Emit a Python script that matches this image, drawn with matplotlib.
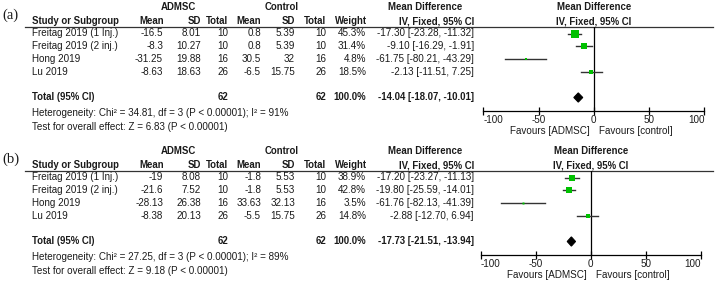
import matplotlib.pyplot as plt
import matplotlib.transforms as mtransforms

# 1. Dados
studies = ['Freitag 2019 (1 Inj.)', 'Freitag 2019 (2 inj.)', 'Hong 2019', 'Lu 2019']

# painel (a)
a_admsc_mean = [-16.5, -8.3, -31.25, -8.63]
a_admsc_sd = [8.01, 10.27, 19.88, 18.63]
a_admsc_n = [10, 10, 16, 26]
a_ctrl_mean = [0.8, 0.8, 30.5, -6.5]
a_ctrl_sd = [5.39, 5.39, 32, 15.75]
a_ctrl_n = [10, 10, 16, 26]
a_weight = [45.3, 31.4, 4.8, 18.5]
a_md = [-17.30, -9.10, -61.75, -2.13]
a_lo = [-23.28, -16.29, -80.21, -11.51]
a_hi = [-11.32, -1.91, -43.29, 7.25]
a_total = [-14.04, -18.07, -10.01]
a_het = (34.81, 3, 91)
a_z = 6.83

# painel (b)
b_admsc_mean = [-19, -21.6, -28.13, -8.38]
b_admsc_sd = [8.08, 7.52, 26.38, 20.13]
b_admsc_n = [10, 10, 16, 26]
b_ctrl_mean = [-1.8, -1.8, 33.63, -5.5]
b_ctrl_sd = [5.53, 5.53, 32.13, 15.75]
b_ctrl_n = [10, 10, 16, 26]
b_weight = [38.9, 42.8, 3.5, 14.8]
b_md = [-17.20, -19.80, -61.76, -2.88]
b_lo = [-23.27, -25.59, -82.13, -12.70]
b_hi = [-11.13, -14.01, -41.39, 6.94]
b_total = [-17.73, -21.51, -13.94]
b_het = (27.25, 3, 89)
b_z = 9.18

W, H = 716, 283
FONT = 'Liberation Sans'
TXT = '#1a1a1a'
GREEN = '#00c000'
FS, FSB = 7.1, 6.9

fig = plt.figure(figsize=(W / 100, H / 100), dpi=100)
bg = fig.add_axes([0, 0, 1, 1])
bg.set_xlim(0, W)
bg.set_ylim(H, 0)
bg.axis('off')


def txt(x, y, s, ha='left', bold=False, transform=None, **kw):
    bg.text(x, y, s, ha=ha, va='center', fontsize=FSB if bold else FS, family=FONT, color=TXT,
            fontweight='bold' if bold else 'normal',
            transform=transform if transform is not None else bg.transData, **kw)


def panel(label, dy, fx0, fx1, admsc_mean, admsc_sd, admsc_n, ctrl_mean, ctrl_sd, ctrl_n,
          weight, md, lo, hi, total, het, z):
    line_y = 27 + dy
    axis_y = 111 + dy
    row0, step = 33.5 + dy, 12.8

    # eixo do forest plot
    fax = fig.add_axes([fx0 / W, 1 - axis_y / H, (fx1 - fx0) / W, (axis_y - line_y) / H])
    fax.set_xlim(-100, 100)
    fax.set_ylim((axis_y - row0) / step, (line_y - row0) / step)
    fax.patch.set_alpha(0)
    for s in ['left', 'right', 'top']:
        fax.spines[s].set_visible(False)
    fax.spines['bottom'].set_linewidth(0.9)
    fax.set_yticks([])
    fax.set_xticks([-100, -50, 0, 50, 100])
    fax.set_xticklabels(['-100', '-50', '0', '50', '100'], fontsize=FS, family=FONT, color=TXT)
    fax.tick_params(axis='x', direction='inout', length=6, width=0.9, pad=0)
    labs = fax.get_xticklabels()
    labs[0].set_ha('left')
    labs[-1].set_ha('right')
    fax.axvline(0, color='black', lw=0.9)

    rows = list(range(len(studies)))
    for i in rows:
        fax.plot([lo[i], hi[i]], [i, i], color='#333333', lw=1.0)
        fax.plot(md[i], i, 's', color=GREEN, markersize=0.76 * weight[i] ** 0.5, markeredgewidth=0)
    t_md, t_lo, t_hi = total
    ty = 5
    h = 0.36
    fax.fill([t_lo, t_md, t_hi, t_md], [ty, ty - h, ty, ty + h], color='black', lw=0.8)

    # tabela
    tr = mtransforms.blended_transform_factory(bg.transData, fax.transData)
    bg.text(2, 15 + dy, label, fontsize=10.5, family='Liberation Serif', color=TXT, va='center')
    txt(178, 7 + dy, 'ADMSC', ha='center', bold=True)
    txt(282, 7 + dy, 'Control', ha='center', bold=True)
    txt(425, 7 + dy, 'Mean Difference', ha='center', bold=True)
    hdr_y = 21 + dy
    txt(32, hdr_y, 'Study or Subgroup', bold=True)
    for x, s in [(164, 'Mean'), (201, 'SD'), (228, 'Total'), (261, 'Mean'), (295, 'SD'),
                 (326, 'Total'), (367, 'Weight'), (474, 'IV, Fixed, 95% CI')]:
        txt(x, hdr_y, s, ha='right', bold=True)
    ftr = mtransforms.blended_transform_factory(fax.transData, bg.transData)
    txt(0, 7 + dy, 'Mean Difference', ha='center', bold=True, transform=ftr)
    txt(0, 21 + dy, 'IV, Fixed, 95% CI', ha='center', bold=True, transform=ftr)
    bg.plot([25, 713], [line_y, line_y], color='#333333', lw=0.9)

    for i in rows:
        txt(32, i, studies[i], transform=tr)
        txt(163, i, f'{admsc_mean[i]:g}', ha='right', transform=tr)
        txt(201, i, f'{admsc_sd[i]:g}', ha='right', transform=tr)
        txt(228, i, f'{admsc_n[i]}', ha='right', transform=tr)
        txt(261, i, f'{ctrl_mean[i]:g}', ha='right', transform=tr)
        txt(295, i, f'{ctrl_sd[i]:g}', ha='right', transform=tr)
        txt(326, i, f'{ctrl_n[i]}', ha='right', transform=tr)
        txt(366, i, f'{weight[i]:.1f}%', ha='right', transform=tr)
        txt(474, i, f'{md[i]:.2f} [{lo[i]:.2f}, {hi[i]:.2f}]', ha='right', transform=tr)

    txt(32, ty, 'Total (95% CI)', bold=True, transform=tr)
    txt(228, ty, f'{sum(admsc_n)}', ha='right', bold=True, transform=tr)
    txt(326, ty, f'{sum(ctrl_n)}', ha='right', bold=True, transform=tr)
    txt(366, ty, f'{sum(weight):.1f}%', ha='right', bold=True, transform=tr)
    txt(474, ty, f'{t_md:.2f} [{t_lo:.2f}, {t_hi:.2f}]', ha='right', bold=True, transform=tr)

    chi, df, i2 = het
    txt(32, 113 + dy, f'Heterogeneity: Chi² = {chi:.2f}, df = {df} (P < 0.00001); I² = {i2}%')
    txt(32, 127 + dy, f'Test for overall effect: Z = {z:.2f} (P < 0.00001)')

    txt(-4, 131 + dy, 'Favours [ADMSC]', ha='right', transform=ftr)
    txt(5, 131 + dy, 'Favours [control]', ha='left', transform=ftr)


panel('(a)', 0, 483.3, 704.3, a_admsc_mean, a_admsc_sd, a_admsc_n, a_ctrl_mean, a_ctrl_sd,
      a_ctrl_n, a_weight, a_md, a_lo, a_hi, a_total, a_het, a_z)
panel('(b)', 144, 481, 700.7, b_admsc_mean, b_admsc_sd, b_admsc_n, b_ctrl_mean, b_ctrl_sd,
      b_ctrl_n, b_weight, b_md, b_lo, b_hi, b_total, b_het, b_z)

fig.savefig('out.png', dpi=100)
